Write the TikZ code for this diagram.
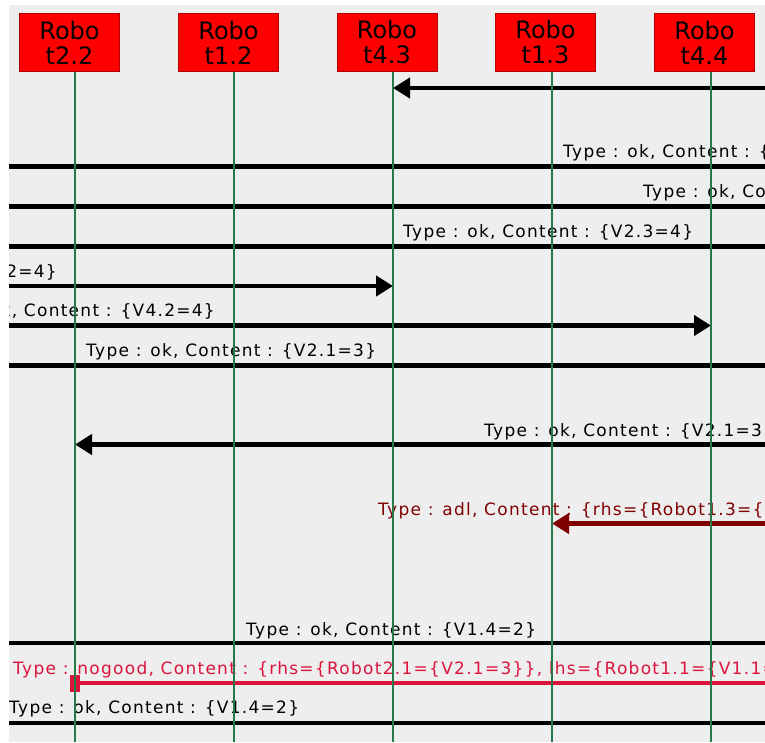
\documentclass[tikz,border=0pt]{standalone}
\usepackage{fontspec}
\setmainfont{DejaVu Sans}
\newfontfamily\msgfont[LetterSpace=7.5]{DejaVu Sans}
\usetikzlibrary{arrows.meta}
\definecolor{bggrey}{HTML}{EEEEEE}
\definecolor{lifegreen}{RGB}{38,122,74}
\definecolor{boxred}{HTML}{FF0000}
\definecolor{boxedge}{HTML}{B00000}
\definecolor{adlred}{HTML}{800000}
\definecolor{nogoodred}{HTML}{DC143C}
\begin{document}
\begin{tikzpicture}[x=1pt,y=-1pt,
  robot/.style={draw=boxedge, line width=1pt, fill=boxred, minimum width=100pt,
    minimum height=58pt, inner sep=0pt, align=center,
    font=\fontsize{24}{25}\selectfont},
  lifeline/.style={draw=lifegreen, line width=2pt},
  msgline/.style={line width=4.5pt, draw=black},
  arrowed/.style={-{Triangle[length=17pt,width=20pt]}},
  msglabel/.style={anchor=base west, inner sep=0pt,
    font=\msgfont\fontsize{17}{19}\selectfont},
]
\useasboundingbox (0,0) rectangle (765,742);
\fill[white] (0,0) rectangle (765,742);
\fill[bggrey] (9,5) rectangle (765,742);

% lifeline feet
\coordinate (f22) at (75,742);
\coordinate (f12) at (234,742);
\coordinate (f43) at (393,742);
\coordinate (f13) at (552,742);
\coordinate (f44) at (711,742);

% message rows: left and right edge of the canvas
\foreach \n/\y in {1/88,2/166.5,3/206.5,4/246.5,5/286,6/325.5,7/365.5,
                   8/444.5,9/523.5,10/643,11/683,12/723}{
  \coordinate (w\n) at (9,\y);
  \coordinate (e\n) at (765,\y);
}

\begin{scope}
\clip (9,5) rectangle (765,742);
% messages
\draw[msgline,arrowed] (e1) -- (f43 |- e1);
\draw[msgline] (w2) -- (e2);
\node[msglabel] (t2) at (563,157) {Type : ok, Content : \{};
\draw[msgline] (w3) -- (e3);
\node[msglabel] (t3) at (643,197) {Type : ok, Co};
\draw[msgline] (w4) -- (e4);
\node[msglabel] (t4) at (403,237) {Type : ok, Content : \{V2.3=4\}};
\draw[msgline,arrowed] (w5) -- (f43 |- w5);
\node[msglabel,anchor=base east] (t5) at (57,277) {2=4\}};
\draw[msgline,arrowed] (w6) -- (f44 |- w6);
\node[msglabel,anchor=base east] (t6) at (215,316) {ok, Content : \{V4.2=4\}};
\draw[msgline] (w7) -- (e7);
\node[msglabel] (t7) at (86,356) {Type : ok, Content : \{V2.1=3\}};
\draw[msgline,arrowed] (e8) -- (f22 |- e8);
\node[msglabel] (t8) at (484,436) {Type : ok, Content : \{V2.1=3\}};
\draw[msgline,draw=adlred,arrowed] (e9) -- (f13 |- e9);
\node[msglabel,text=adlred] (t9) at (378,515) {Type : adl, Content : \{rhs=\{Robot1.3=\{V};
\draw[msgline] (w10) -- (e10);
\node[msglabel] (t10) at (246,635) {Type : ok, Content : \{V1.4=2\}};
\draw[msgline,draw=nogoodred] (f22 |- w11) -- (e11);
\node[fill=nogoodred, minimum width=10pt, minimum height=17pt, inner sep=0pt]
  (mark11) at (f22 |- w11) {};
\node[msglabel,text=nogoodred] (t11) at (13,674)
  {Type : nogood, Content : \{rhs=\{Robot2.1=\{V2.1=3\}\}, lhs=\{Robot1.1=\{V1.1=};
\draw[msgline] (w12) -- (e12);
\node[msglabel] (t12) at (9,713) {Type : ok, Content : \{V1.4=2\}};
\end{scope}

% robots
\node[robot] (r22) at (69.5,42.5) {Robo\\t2.2};
\node[robot] (r12) at (228.5,42.5) {Robo\\t1.2};
\node[robot] (r43) at (387,42.5) {Robo\\t4.3};
\node[robot] (r13) at (545.5,42.5) {Robo\\t1.3};
\node[robot] (r44) at (704.5,42.5) {Robo\\t4.4};

% lifelines
\draw[lifeline] (f22 |- r22.south) -- (f22);
\draw[lifeline] (f12 |- r12.south) -- (f12);
\draw[lifeline] (f43 |- r43.south) -- (f43);
\draw[lifeline] (f13 |- r13.south) -- (f13);
\draw[lifeline] (f44 |- r44.south) -- (f44);
\end{tikzpicture}
\end{document}
